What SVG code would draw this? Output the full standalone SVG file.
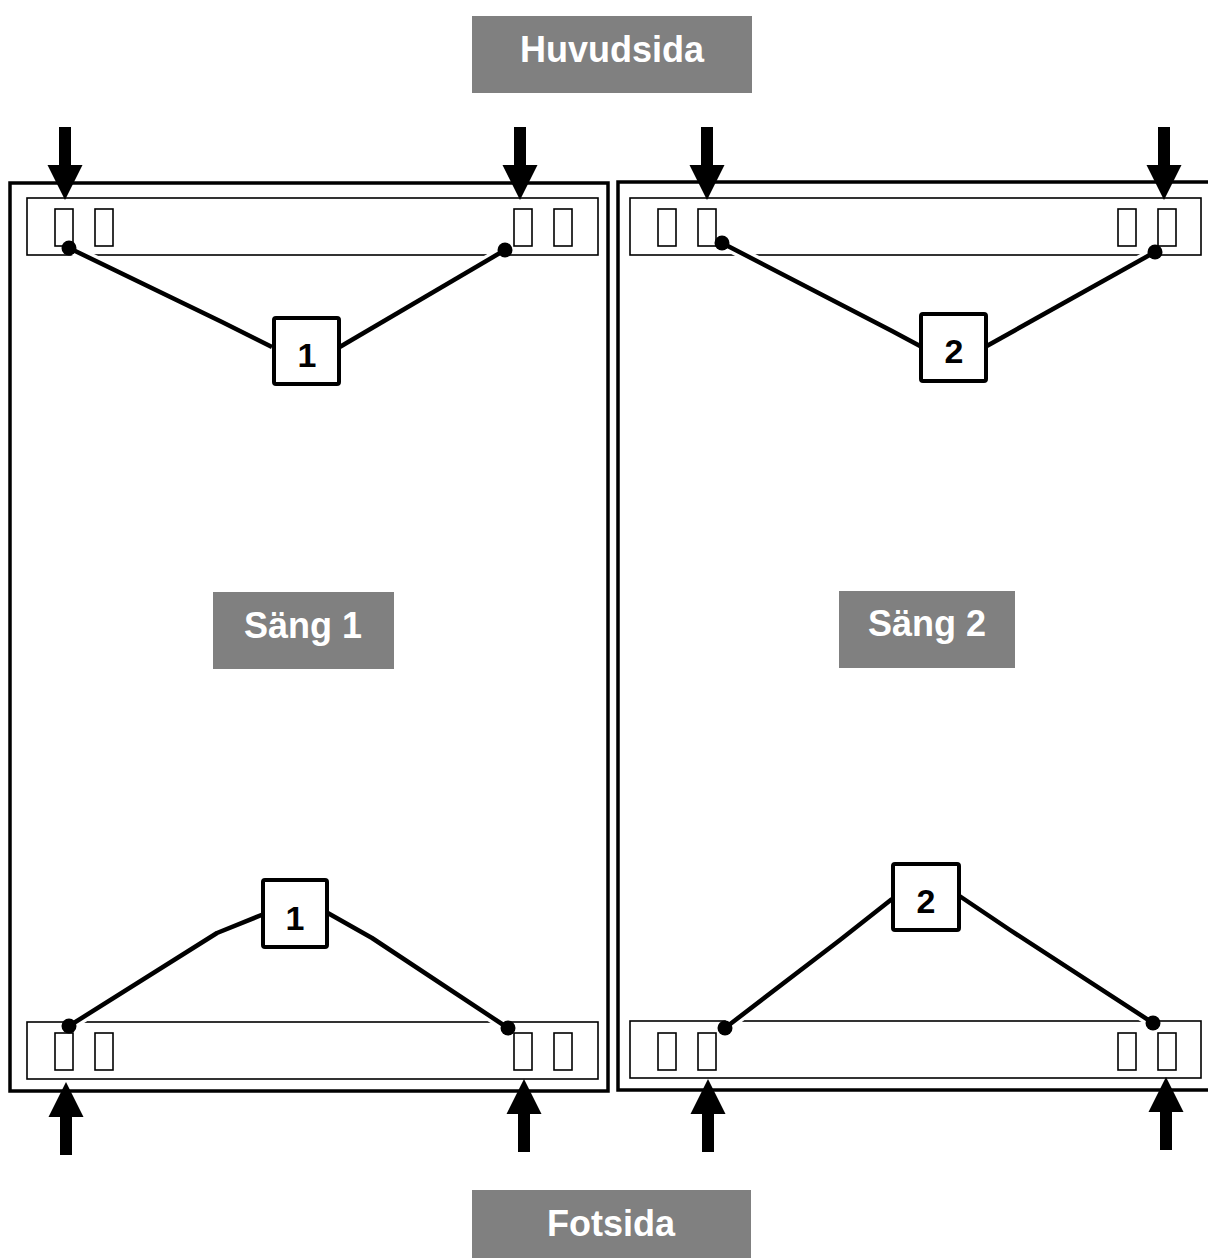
<svg xmlns="http://www.w3.org/2000/svg" width="1208" height="1258" viewBox="0 0 1208 1258">
  <style>
    .frame { fill: none; stroke: #000; stroke-width: 3.5; }
    .strip { fill: none; stroke: #000; stroke-width: 1.6; }
    .slot { fill: #fff; stroke: #000; stroke-width: 1.6; }
    .label rect { fill: #808080; }
    .label text { fill: #fff; font-family: "Liberation Sans", Arial, sans-serif; font-weight: bold; font-size: 36px; text-anchor: middle; }
    .num rect { fill: #fff; stroke: #000; stroke-width: 4; }
    .num text { fill: #000; font-family: "Liberation Sans", Arial, sans-serif; font-weight: bold; font-size: 34px; text-anchor: middle; }
    .halo { fill: none; stroke: #fff; stroke-width: 11; stroke-linejoin: round; }
    .wire { fill: none; stroke: #000; stroke-width: 4.5; stroke-linejoin: round; }
    .dot { fill: #000; }
    .arrow { fill: #000; }
  </style>
  <defs>
    <!-- downward arrow, tip at origin -->
    <path id="arrowDown" d="M-6,-73 H6 V-35 H17.5 L0,0 L-17.5,-35 H-6 Z"/>
    <!-- upward arrow, tip at origin -->
    <path id="arrowUp" d="M-6,73 H6 V35 H17.5 L0,0 L-17.5,35 H-6 Z"/>
    <g id="slotPair">
      <rect class="slot" x="0" y="0" width="18" height="37"/>
      <rect class="slot" x="40" y="0" width="18" height="37"/>
    </g>
  </defs>

  <rect width="1208" height="1258" fill="#fff"/>

  <!-- Bed 1 -->
  <g id="bed1">
    <rect class="frame" x="10" y="183" width="598" height="908"/>
    <rect class="strip" x="27" y="198" width="571" height="57"/>
    <rect class="strip" x="27" y="1022" width="571" height="57"/>
    <use href="#slotPair" x="55" y="209"/>
    <use href="#slotPair" x="514" y="209"/>
    <use href="#slotPair" x="55" y="1033"/>
    <use href="#slotPair" x="514" y="1033"/>
  </g>

  <!-- Bed 2 -->
  <g id="bed2">
    <rect class="frame" x="618" y="182" width="600" height="908"/>
    <rect class="strip" x="630" y="198" width="571" height="57"/>
    <rect class="strip" x="630" y="1021" width="571" height="57"/>
    <use href="#slotPair" x="658" y="209"/>
    <use href="#slotPair" x="1118" y="209"/>
    <use href="#slotPair" x="658" y="1033"/>
    <use href="#slotPair" x="1118" y="1033"/>
  </g>

  <!-- Direction arrows -->
  <g id="arrows">
    <use class="arrow" href="#arrowDown" x="65" y="200"/>
    <use class="arrow" href="#arrowDown" x="520" y="200"/>
    <use class="arrow" href="#arrowDown" x="707" y="200"/>
    <use class="arrow" href="#arrowDown" x="1164" y="200"/>
    <use class="arrow" href="#arrowUp" x="66" y="1082"/>
    <use class="arrow" href="#arrowUp" x="524" y="1079"/>
    <use class="arrow" href="#arrowUp" x="708" y="1079"/>
    <use class="arrow" href="#arrowUp" x="1166" y="1077"/>
  </g>

  <!-- Connectors from the numbered tags to the slots -->
  <g id="connectors">
    <g id="halos">
      <path class="halo" d="M69,248 L222,322 L272,347"/>
      <path class="halo" d="M338,348 L505,250"/>
      <path class="halo" d="M722,243 L892,331 L920,346"/>
      <path class="halo" d="M985,347 L1155,252"/>
      <path class="halo" d="M69,1026 L217,933 L264,914"/>
      <path class="halo" d="M326,912 L372,938 L508,1028"/>
      <path class="halo" d="M725,1028 L840,940 L892,899"/>
      <path class="halo" d="M958,895 L1010,930 L1153,1023"/>
    </g>
    <path class="wire" d="M69,248 L222,322 L272,347"/>
    <path class="wire" d="M338,348 L505,250"/>
    <path class="wire" d="M722,243 L892,331 L920,346"/>
    <path class="wire" d="M985,347 L1155,252"/>
    <path class="wire" d="M69,1026 L217,933 L264,914"/>
    <path class="wire" d="M326,912 L372,938 L508,1028"/>
    <path class="wire" d="M725,1028 L840,940 L892,899"/>
    <path class="wire" d="M958,895 L1010,930 L1153,1023"/>
    <circle class="dot" cx="69" cy="248" r="7.5"/>
    <circle class="dot" cx="505" cy="250" r="7.5"/>
    <circle class="dot" cx="722" cy="243" r="7.5"/>
    <circle class="dot" cx="1155" cy="252" r="7.5"/>
    <circle class="dot" cx="69" cy="1026" r="7.5"/>
    <circle class="dot" cx="508" cy="1028" r="7.5"/>
    <circle class="dot" cx="725" cy="1028" r="7.5"/>
    <circle class="dot" cx="1153" cy="1023" r="7.5"/>
  </g>

  <!-- Numbered tags -->
  <g id="tag1top" class="num">
    <rect x="274" y="318" width="65" height="66" rx="2"/>
    <text x="307" y="367">1</text>
  </g>
  <g id="tag2top" class="num">
    <rect x="921" y="314" width="65" height="67" rx="2"/>
    <text x="954" y="363">2</text>
  </g>
  <g id="tag1bottom" class="num">
    <rect x="263" y="880" width="64" height="67" rx="2"/>
    <text x="295" y="930">1</text>
  </g>
  <g id="tag2bottom" class="num">
    <rect x="893" y="864" width="66" height="66" rx="2"/>
    <text x="926" y="913">2</text>
  </g>

  <!-- Grey labels -->
  <g id="huvudsida" class="label">
    <rect x="472" y="16" width="280" height="77"/>
    <text x="612" y="62">Huvudsida</text>
  </g>
  <g id="sang1" class="label">
    <rect x="213" y="592" width="181" height="77"/>
    <text x="303" y="638">Säng 1</text>
  </g>
  <g id="sang2" class="label">
    <rect x="839" y="591" width="176" height="77"/>
    <text x="927" y="636">Säng 2</text>
  </g>
  <g id="fotsida" class="label">
    <rect x="472" y="1190" width="279" height="68"/>
    <text x="611" y="1236">Fotsida</text>
  </g>
</svg>
